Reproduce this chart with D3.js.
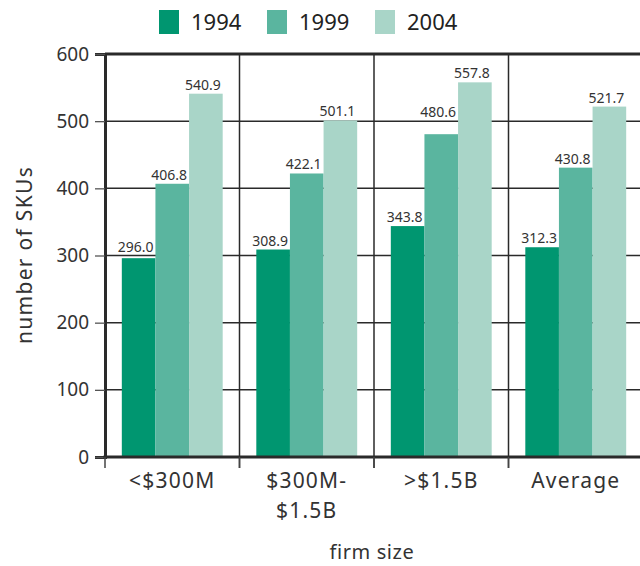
<!DOCTYPE html>
<html><head><meta charset="utf-8">
<script src="https://cdn.jsdelivr.net/npm/d3@7"></script>
<style>body{margin:0;background:#fff;} svg{display:block;font-family:"Noto Sans","Open Sans",sans-serif;}</style>
</head><body>
<script>
const categories = ["<$300M", "$300M-\n$1.5B", ">$1.5B", "Average"];
const years = ["1994", "1999", "2004"];
const v1994 = [296.0, 308.9, 343.8, 312.3];
const v1999 = [406.8, 422.1, 480.6, 430.8];
const v2004 = [540.9, 501.1, 557.8, 521.7];
const yTicks = [0, 100, 200, 300, 400, 500, 600];
const colors = ["#009670", "#5ab59f", "#a9d5c8"];
const series = [v1994, v1999, v2004];

const W = 640, H = 566;
const m = {left: 105, top: 54, bottom: 457, right: 643};
const svg = d3.select("body").append("svg").attr("width", W).attr("height", H);

const x = d3.scaleBand().domain(categories).range([m.left, m.right]).paddingInner(0).paddingOuter(0);
const x1 = d3.scaleBand().domain(years).range([0, x.bandwidth()]).paddingInner(0).paddingOuter(0.5);
const y = d3.scaleLinear().domain([0, 600]).range([m.bottom, m.top]);
const gridYs = yTicks.filter(t => t > 0 && t < 600).map(t => y(t));

// gridlines
svg.append("g").selectAll("line").data(yTicks.filter(t => t > 0 && t < 600)).join("line")
  .attr("x1", m.left).attr("x2", W).attr("y1", d => y(d)).attr("y2", d => y(d))
  .attr("stroke", "#2a2a2a").attr("stroke-width", 1.5);
// vertical separators
svg.append("g").selectAll("line").data(categories.slice(1)).join("line")
  .attr("x1", d => x(d)).attr("x2", d => x(d)).attr("y1", m.top).attr("y2", m.bottom + 11)
  .attr("stroke", "#2a2a2a").attr("stroke-width", 1.5);

// label placement: avoid gridline crossing the text
function labelY(v) {
  const top = y(v);
  let b = top - 4;
  const hit = gridYs.find(g => g > b - 12 && g <= top);
  if (hit !== undefined) b = hit - 4;
  return b;
}

// bars
const rows = categories.map((c, i) => ({c, vals: series.map((s, j) => ({year: years[j], v: s[i], j}))}));
const grp = svg.append("g").selectAll("g").data(rows).join("g")
  .attr("transform", d => `translate(${x(d.c)},0)`);
grp.selectAll("rect").data(d => d.vals).join("rect")
  .attr("x", d => x1(d.year)).attr("width", x1.bandwidth())
  .attr("y", d => y(d.v)).attr("height", d => y(0) - y(d.v))
  .attr("fill", d => colors[d.j]);
grp.selectAll("text").data(d => d.vals).join("text")
  .attr("x", d => x1(d.year) + x1.bandwidth() - 2).attr("y", d => labelY(d.v))
  .attr("text-anchor", "end").attr("font-size", 14).attr("fill", "#333")
  .text(d => d.v.toFixed(1));

// top border
svg.append("line").attr("x1", m.left).attr("x2", W).attr("y1", y(600)).attr("y2", y(600))
  .attr("stroke", "#2a2a2a").attr("stroke-width", 3);

// y axis
const ya = svg.append("g").attr("transform", `translate(${m.left},0)`)
  .call(d3.axisLeft(y).tickValues(yTicks).tickSize(10).tickPadding(6));
ya.select(".domain").attr("stroke", "#2a2a2a").attr("stroke-width", 3);
ya.selectAll(".tick line").attr("stroke", "#555").attr("stroke-width", 1.3);
ya.selectAll(".tick text").attr("font-size", 19).attr("fill", "#333").attr("font-family", "Noto Sans");

// x axis line
svg.append("line").attr("x1", m.left - 1.5).attr("x2", W).attr("y1", m.bottom).attr("y2", m.bottom)
  .attr("stroke", "#2a2a2a").attr("stroke-width", 3);
// x ticks at band edges
svg.append("g").selectAll("line").data([m.left].concat(categories.slice(1).map(c => x(c)))).join("line")
  .attr("x1", d => d).attr("x2", d => d).attr("y1", m.bottom).attr("y2", m.bottom + 11)
  .attr("stroke", "#444").attr("stroke-width", 1.5);
// category labels
const cl = svg.append("g").selectAll("text").data(categories).join("text")
  .attr("x", d => x(d) + x.bandwidth() / 2).attr("y", 488)
  .attr("text-anchor", "middle").attr("font-size", 21).attr("letter-spacing", 1.2).attr("fill", "#333");
cl.each(function(d) {
  const lines = d.split("\n");
  d3.select(this).selectAll("tspan").data(lines).join("tspan")
    .attr("x", x(d) + x.bandwidth() / 2).attr("dy", (l, i) => i === 0 ? 0 : 30).text(l => l);
});

// axis titles
svg.append("text").attr("x", 372).attr("y", 559).attr("text-anchor", "middle")
  .attr("font-size", 20).attr("letter-spacing", 0.6).attr("fill", "#333").text("firm size");
svg.append("text").attr("transform", "translate(32,255) rotate(-90)").attr("text-anchor", "middle")
  .attr("font-size", 21).attr("letter-spacing", 1.3).attr("fill", "#333").text("number of SKUs");

// legend
const legX = [159, 267, 375];
const lg = svg.append("g").selectAll("g").data(years).join("g")
  .attr("transform", (d, i) => `translate(${legX[i]},10)`);
lg.append("rect").attr("width", 20).attr("height", 24).attr("fill", (d, i) => colors[i]);
lg.append("text").attr("x", 32).attr("y", 20).attr("font-size", 22).attr("fill", "#222").text(d => d);
</script>
</body></html>
